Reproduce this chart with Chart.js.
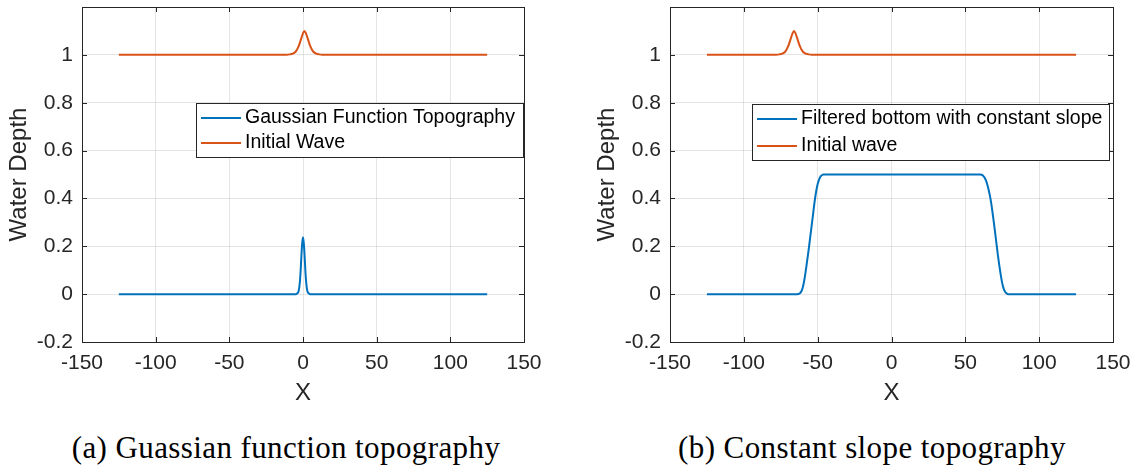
<!DOCTYPE html>
<html><head><meta charset="utf-8">
<script src="https://cdn.jsdelivr.net/npm/chart.js@4.4.0/dist/chart.umd.min.js"></script>
<style>
html,body{margin:0;padding:0;background:#fff;width:1141px;height:469px;overflow:hidden;}
.panel{position:absolute;top:0;}
.cap{position:absolute;top:427px;font-family:"Liberation Serif","DejaVu Serif",serif;font-size:31px;letter-spacing:0.4px;color:#000;text-align:center;white-space:nowrap;line-height:42px;}
</style></head><body>
<div class="panel" style="left:0;"><canvas id="c1" width="560" height="420"></canvas></div>
<div class="panel" style="left:588px;"><canvas id="c2" width="553" height="420"></canvas></div>
<div class="cap" style="left:0;width:572px">(a) Guassian function topography</div>
<div class="cap" style="left:600px;width:544px">(b) Constant slope topography</div>
<script>
// ---- tick labels ----
const xTickValues = [-150, -100, -50, 0, 50, 100, 150];
const yTickValues = [-0.2, 0, 0.2, 0.4, 0.6, 0.8, 1];

// ---- panel (a) ----
const gaussX = [-125, -5, -4, -3, -2, -1.5, -1, -0.5, 0, 0.5, 1, 1.5, 2, 3, 4, 5, 125];
const gaussY = [0, 0, 0.003, 0.012, 0.06, 0.11, 0.17, 0.215, 0.238, 0.215, 0.17, 0.11, 0.06, 0.012, 0.003, 0, 0];
const waveAX = [-125, -11, -9, -7, -5, -3, -1, 0, 1, 2, 3, 5, 7, 9, 11, 13, 125];
const waveAY = [1, 1.0005, 1.002, 1.005, 1.013, 1.035, 1.072, 1.09, 1.1, 1.09, 1.072, 1.035, 1.013, 1.005, 1.002, 1.0005, 1];

// ---- panel (b) ----
const slopeX = [-125, -64, -62, -61, -60, -59, -58, -57, -56, -55, -54, -53, -52, -51, -50, -49, -48, -47, -46,
                60, 61, 62, 63, 64, 65, 66, 67, 68, 69, 70, 71, 72, 73, 74, 75, 76, 77, 78, 79, 125];
const slopeY = [0, 0, 0.004, 0.012, 0.03, 0.06, 0.1, 0.145, 0.19, 0.24, 0.29, 0.34, 0.39, 0.43, 0.46, 0.48, 0.492, 0.498, 0.5,
                0.5, 0.499, 0.495, 0.487, 0.474, 0.455, 0.43, 0.4, 0.36, 0.315, 0.265, 0.215, 0.165, 0.12, 0.08, 0.045, 0.022, 0.009, 0.003, 0, 0];
const waveBX = [-125, -78, -76, -74, -72, -70, -68, -67, -66, -65, -64, -62, -60, -58, -56, -54, 125];
const waveBY = [1, 1.0005, 1.002, 1.005, 1.013, 1.035, 1.072, 1.09, 1.1, 1.09, 1.072, 1.035, 1.013, 1.005, 1.002, 1.0005, 1];

const labelsA = ['Gaussian Function Topography', 'Initial Wave'];
const labelsB = ['Filtered bottom with constant slope', 'Initial wave'];

const BLUE = '#0072BD', ORANGE = '#D95319', AXC = '#262626';
const SANS = '"Liberation Sans", Arial, Helvetica, sans-serif';

function pts(xs, ys) { return xs.map((x, i) => ({x: x, y: ys[i]})); }

const matlabPlugin = {
  id: 'matlab',
  afterDraw(chart, args, opts) {
    const {ctx, chartArea: a, scales} = chart;
    ctx.save();
    ctx.strokeStyle = AXC; ctx.lineWidth = 1;
    ctx.strokeRect(Math.round(a.left) + 0.5, Math.round(a.top) + 0.5, Math.round(a.right - a.left), Math.round(a.bottom - a.top));
    const tl = 5;
    ctx.beginPath();
    xTickValues.forEach(v => {
      const px = Math.round(scales.x.getPixelForValue(v)) + 0.5;
      ctx.moveTo(px, a.bottom); ctx.lineTo(px, a.bottom - tl);
      ctx.moveTo(px, a.top); ctx.lineTo(px, a.top + tl);
    });
    yTickValues.forEach(v => {
      const py = Math.round(scales.y.getPixelForValue(v)) + 0.5;
      ctx.moveTo(a.left, py); ctx.lineTo(a.left + tl, py);
      ctx.moveTo(a.right, py); ctx.lineTo(a.right - tl, py);
    });
    ctx.stroke();
    // legend box
    const L = opts.legend;
    ctx.fillStyle = '#fff';
    ctx.fillRect(L.x, L.y, L.w, L.h);
    ctx.strokeStyle = AXC;
    ctx.strokeRect(L.x + 0.5, L.y + 0.5, L.w, L.h);
    ctx.font = '19.5px ' + SANS;
    ctx.textBaseline = 'middle';
    ctx.textAlign = 'left';
    chart.data.datasets.forEach((ds, i) => {
      const ry = L.y + L.rows[i];
      ctx.strokeStyle = ds.borderColor; ctx.lineWidth = 2;
      ctx.beginPath(); ctx.moveTo(L.x + 5, ry); ctx.lineTo(L.x + 45, ry); ctx.stroke();
      ctx.fillStyle = '#000';
      ctx.fillText(ds.label, L.x + 49, ry);
    });
    ctx.restore();
  }
};

function makeChart(id, datasets, padRight, legend) {
  return new Chart(document.getElementById(id), {
    type: 'line',
    data: {datasets: datasets},
    options: {
      responsive: false, animation: false,
      layout: {padding: {left: 0, right: padRight, top: 7, bottom: 0}},
      elements: {point: {radius: 0}, line: {borderWidth: 2, cubicInterpolationMode: 'monotone'}},
      plugins: {legend: {display: false}, tooltip: {enabled: false}, matlab: {legend: legend}},
      scales: {
        x: {
          type: 'linear', min: -150, max: 150,
          afterBuildTicks: s => { s.ticks = xTickValues.map(v => ({value: v})); },
          afterFit: s => { s.height = 78; s.paddingLeft = 0; s.paddingRight = 0; },
          grid: {color: 'rgba(0,0,0,0.1)', drawTicks: false},
          border: {display: false},
          ticks: {padding: 9, color: AXC, font: {family: SANS, size: 21}, callback: v => String(v)},
          title: {display: true, text: 'X', color: AXC, font: {family: SANS, size: 24}, padding: {top: 0, bottom: 12}}
        },
        y: {
          type: 'linear', min: -0.2, max: 1.2,
          afterBuildTicks: s => { s.ticks = yTickValues.map(v => ({value: v})); },
          afterFit: s => { s.width = 82; s.paddingTop = 0; s.paddingBottom = 0; },
          grid: {color: 'rgba(0,0,0,0.1)', drawTicks: false},
          border: {display: false},
          ticks: {padding: 9, color: AXC, font: {family: SANS, size: 21}, callback: v => String(Math.round(v * 10) / 10)},
          title: {display: true, text: 'Water Depth', color: AXC, font: {family: SANS, size: 24}, padding: {top: 5, bottom: 0}}
        }
      }
    },
    plugins: [matlabPlugin]
  });
}

makeChart('c1', [
  {label: labelsA[0], data: pts(gaussX, gaussY), borderColor: BLUE},
  {label: labelsA[1], data: pts(waveAX, waveAY), borderColor: ORANGE}
], 36, {x: 196, y: 103, w: 327, h: 54, rows: [15, 40]});

makeChart('c2', [
  {label: labelsB[0], data: pts(slopeX, slopeY), borderColor: BLUE},
  {label: labelsB[1], data: pts(waveBX, waveBY), borderColor: ORANGE}
], 28, {x: 164, y: 104, w: 357, h: 56, rows: [15, 42]});
</script>
</body></html>
